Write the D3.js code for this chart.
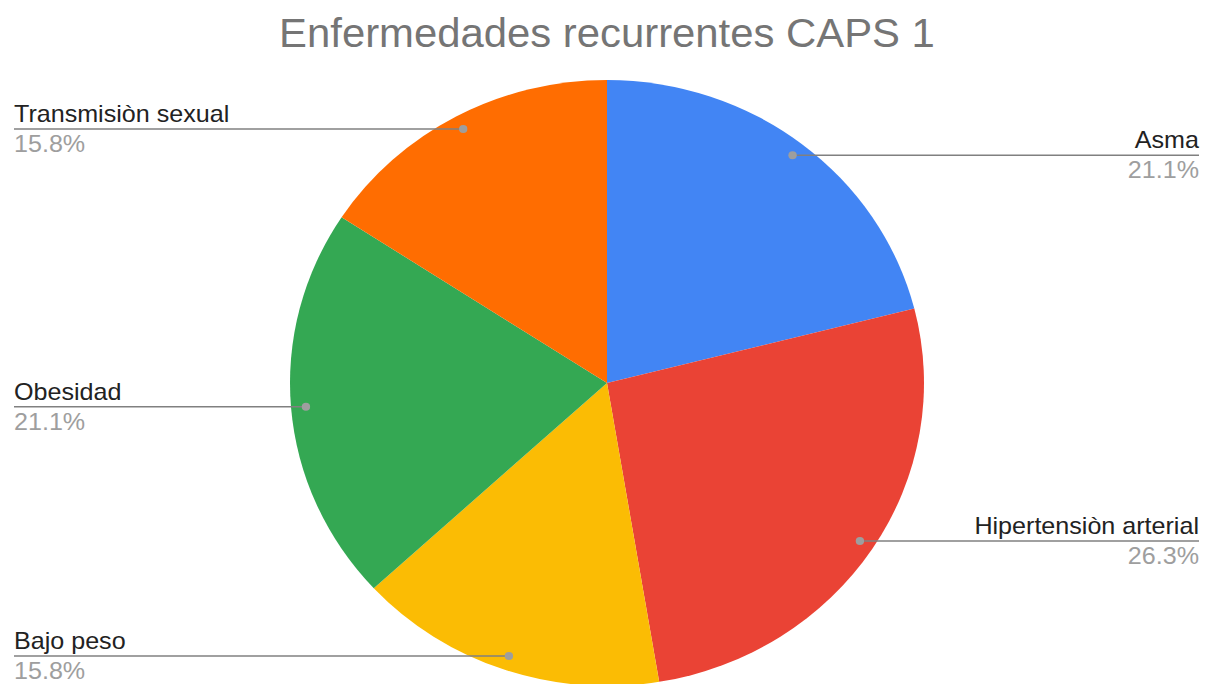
<!DOCTYPE html>
<html>
<head>
<meta charset="utf-8">
<script src="https://cdn.jsdelivr.net/npm/d3@7"></script>
<style>
  html, body { margin: 0; padding: 0; background: #fff; }
  text { font-family: Arial, "Liberation Sans", sans-serif; }
</style>
</head>
<body>
<div id="chart"></div>
<script>
// data
const categories = ["Asma", "Hipertensiòn arterial", "Bajo peso", "Obesidad", "Transmisiòn sexual"];
const values = [4, 5, 3, 4, 3];
const sliceColors = ["#4285f4", "#ea4335", "#fbbc04", "#34a853", "#ff6d01"];
const chartTitle = "Enfermedades recurrentes CAPS 1";

// the reference is stretched a bit horizontally
const sx = 317 / 303;
const totalW = 1206, totalH = 684;
const cx = 607 / sx, cy = 383, radius = 303;

const svg = d3.select("#chart")
  .append("svg")
    .attr("width", totalW)
    .attr("height", totalH);

const g = svg.append("g")
    .attr("transform", `scale(${sx},1)`);

// title
g.append("text")
    .attr("x", cx)
    .attr("y", 47)
    .attr("text-anchor", "middle")
    .style("font-size", "40px")
    .style("fill", "#757575")
    .text(chartTitle);

const data = categories.map((c, i) => ({ name: c, value: values[i], color: sliceColors[i] }));
const total = d3.sum(values);
const fmt = d3.format(".1%");

const pie = d3.pie()
    .value(d => d.value)
    .sort(null);

const arc = d3.arc()
    .innerRadius(0)
    .outerRadius(radius);

const arcs = pie(data);

const pieG = g.append("g")
    .attr("transform", `translate(${cx},${cy})`);

pieG.selectAll("path")
  .data(arcs)
  .join("path")
    .attr("d", arc)
    .style("fill", d => d.data.color);

// labels with leader lines
const leftX = 14 / sx, rightX = 1199 / sx;

const labels = g.append("g");
arcs.forEach(function(d) {
  const mid = (d.startAngle + d.endAngle) / 2;
  const px = cx + Math.sin(mid) * radius * 0.953;
  const py = cy - Math.cos(mid) * radius * 0.953;
  const right = mid < Math.PI;
  const tx = right ? rightX : leftX;

  labels.append("line")
      .attr("x1", px).attr("x2", tx)
      .attr("y1", py).attr("y2", py)
      .style("stroke", "#808080")
      .style("stroke-width", 1.5);

  labels.append("circle")
      .attr("cx", px).attr("cy", py)
      .attr("r", 4)
      .style("fill", "#9e9e9e");

  labels.append("text")
      .attr("x", tx).attr("y", py - 7)
      .attr("text-anchor", right ? "end" : "start")
      .style("font-size", "24px")
      .style("fill", "#222222")
      .text(d.data.name);

  labels.append("text")
      .attr("x", tx).attr("y", py + 23)
      .attr("text-anchor", right ? "end" : "start")
      .style("font-size", "24px")
      .style("fill", "#9e9e9e")
      .text(fmt(d.data.value / total));
});
</script>
</body>
</html>
